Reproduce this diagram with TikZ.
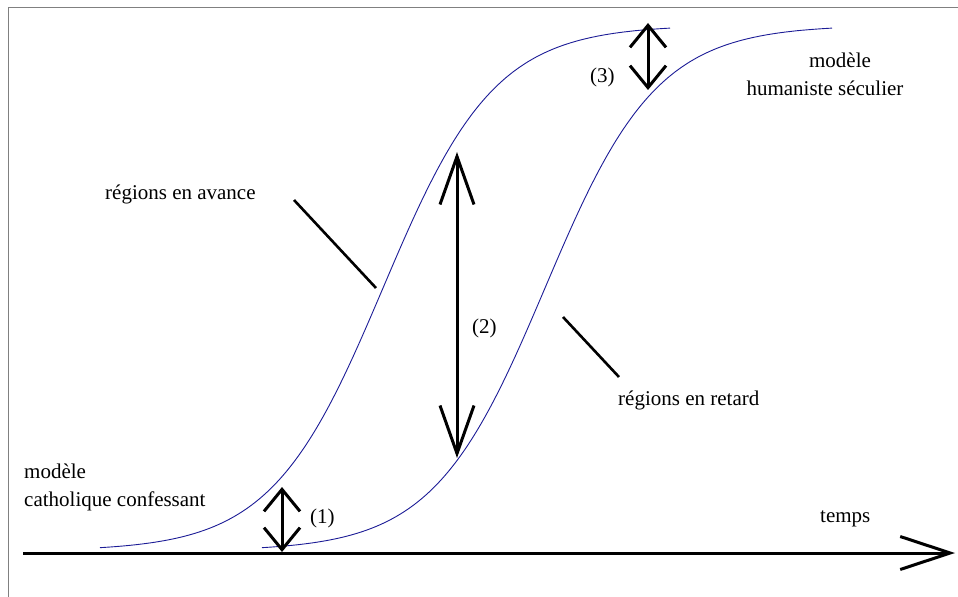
\documentclass[tikz,border=0pt]{standalone}
\usepackage{fontspec}
\setmainfont{Liberation Serif}
\usetikzlibrary{arrows.meta}
\definecolor{curveblue}{RGB}{28,28,150}
\definecolor{framegray}{RGB}{128,128,128}
\begin{document}
\begin{tikzpicture}[x=1bp,y=-1bp,
  lbl/.style={font=\fontsize{21bp}{28bp}\selectfont, inner sep=0pt},
  curve/.style={draw=curveblue, line width=0.9bp},
  pointer/.style={line width=2.6bp},
  dblshort/.style={line width=3bp,
    {Straight Barb[length=22bp,width=36bp]}-{Straight Barb[length=22bp,width=36bp]}},
  dbllong/.style={line width=3bp,
    {Straight Barb[length=48bp,width=34bp]}-{Straight Barb[length=48bp,width=34bp]}},
  axisline/.style={line width=3bp, -{Straight Barb[length=50bp,width=33bp]}}
]
\useasboundingbox (0,0) rectangle (958,597);
% frame
\draw[framegray, line width=1bp] (8,597) -- (8,8) -- (958,8);

% axis
\coordinate (axS) at (23,553);
\coordinate (axE) at (955,553);
\draw[axisline] (axS) -- (axE);

% curves
\draw[curve] plot[domain=100:670, samples=150, smooth] (\x,{551-526/(1+exp(-(\x-383)/56))});
\draw[curve] plot[domain=262:832, samples=150, smooth] (\x,{551-526/(1+exp(-(\x-545)/56))});

% double arrows
\coordinate (d1t) at (282,487);
\coordinate (d1b) at (282,552);
\draw[dblshort] (d1t) -- (d1b);
\coordinate (d2t) at (457,152);
\coordinate (d2b) at (457,458);
\draw[dbllong] (d2t) -- (d2b);
\coordinate (d3t) at (648,23);
\coordinate (d3b) at (648,90);
\draw[dblshort] (d3t) -- (d3b);

% pointer lines
\coordinate (pa1) at (294,200);
\coordinate (pa2) at (376,288);
\draw[pointer] (pa1) -- (pa2);
\coordinate (pr1) at (563,317);
\coordinate (pr2) at (619,377);
\draw[pointer] (pr1) -- (pr2);

% labels
\node[lbl, anchor=base west] (avance) at (105,200) {régions en avance};
\node[lbl, anchor=base west] (retard) at (618,405) {régions en retard};
\node[lbl, anchor=base west] (cath1) at (24,478) {modèle};
\node[lbl, anchor=base west] (cath2) at (24,506) {catholique confessant};
\node[lbl, anchor=base] (hum1) at (840,68) {modèle};
\node[lbl, anchor=base] (hum2) at (825,96) {humaniste séculier};
\node[lbl, anchor=base west] (temps) at (820,522) {temps};
\node[lbl, anchor=base west] (l1) at (310,523) {(1)};
\node[lbl, anchor=base west] (l2) at (472,333) {(2)};
\node[lbl, anchor=base west] (l3) at (590,83) {(3)};
\end{tikzpicture}
\end{document}
